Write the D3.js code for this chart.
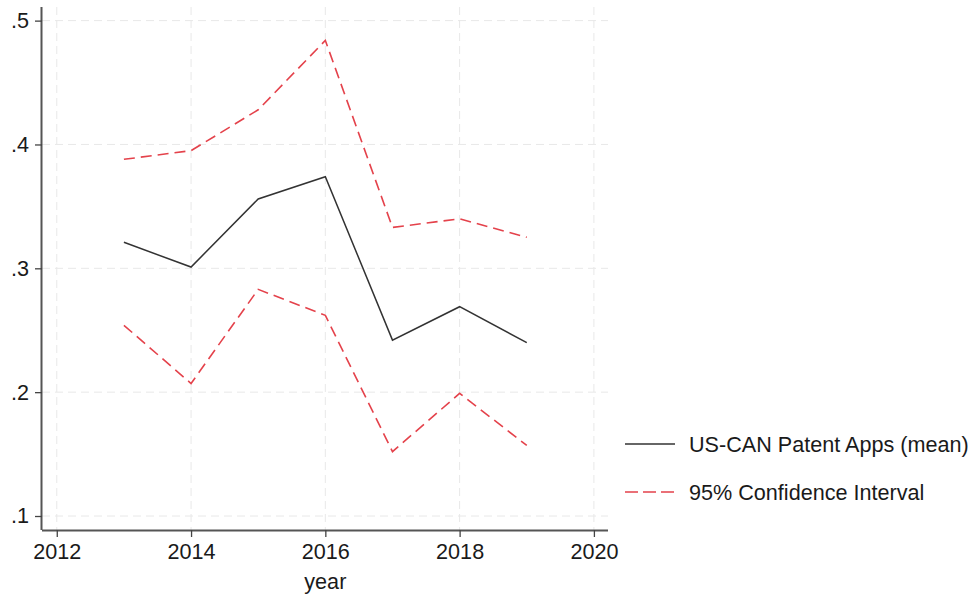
<!DOCTYPE html>
<html>
<head>
<meta charset="utf-8">
<script src="https://cdn.jsdelivr.net/npm/d3@7"></script>
<style>
  html, body { margin: 0; padding: 0; background: #fff; }
  svg text { font-family: "Liberation Sans", Arial, Helvetica, sans-serif; fill: #1a1a1a; }
</style>
</head>
<body>
<svg id="chart" width="979" height="597"></svg>
<script>
// Yearly means of US-CAN patent applications with 95% confidence bounds
const years = [2013, 2014, 2015, 2016, 2017, 2018, 2019];
const meanValues = [0.321, 0.301, 0.356, 0.374, 0.242, 0.269, 0.240];
const upperCI = [0.388, 0.395, 0.428, 0.484, 0.333, 0.340, 0.325];
const lowerCI = [0.254, 0.207, 0.283, 0.262, 0.152, 0.199, 0.157];

const xTicks = [2012, 2014, 2016, 2018, 2020];
const yTicks = [0.1, 0.2, 0.3, 0.4, 0.5];
const yTickLabels = [".1", ".2", ".3", ".4", ".5"];
const legendLabels = ["US-CAN Patent Apps (mean)", "95% Confidence Interval"];

const svg = d3.select("#chart");
const plot = { left: 42, right: 608, top: 7, bottom: 530 };
const fontSize = 21.6;

const x = d3.scaleLinear().domain([2011.78, 2020.21]).range([plot.left, plot.right]);
const y = d3.scaleLinear().domain([0.0887, 0.511]).range([plot.bottom, plot.top]);

const gridColor = "#e8e8e8";
const red = "#e4424b";

// grid
svg.append("g").selectAll("line").data(xTicks).join("line")
  .attr("x1", d => x(d)).attr("x2", d => x(d))
  .attr("y1", plot.top).attr("y2", plot.bottom)
  .attr("stroke", gridColor).attr("stroke-width", 1).attr("stroke-dasharray", "8,5");
svg.append("g").selectAll("line").data(yTicks).join("line")
  .attr("x1", plot.left).attr("x2", plot.right)
  .attr("y1", d => y(d)).attr("y2", d => y(d))
  .attr("stroke", gridColor).attr("stroke-width", 1).attr("stroke-dasharray", "8,5");

// axes
const xAxis = d3.axisBottom(x).tickValues(xTicks).tickFormat(d3.format("d"))
  .tickSize(7).tickPadding(7);
const gx = svg.append("g").attr("transform", `translate(0,${plot.bottom})`).call(xAxis);
gx.select(".domain").attr("d", `M${plot.left},0.5H${plot.right}`)
  .attr("stroke", "#555").attr("stroke-width", 2);
gx.selectAll(".tick line").attr("stroke", "#444").attr("stroke-width", 1.3);
gx.selectAll(".tick text").attr("font-size", fontSize).attr("fill", "#1a1a1a")
  .attr("font-family", "Liberation Sans, Arial, sans-serif");

const yAxis = d3.axisLeft(y).tickValues(yTicks)
  .tickFormat((d, i) => yTickLabels[i]).tickSize(7).tickPadding(6);
const gy = svg.append("g").attr("transform", `translate(${plot.left},0)`).call(yAxis);
gy.select(".domain").attr("d", `M-0.5,${plot.top}V${plot.bottom}`)
  .attr("stroke", "#555").attr("stroke-width", 2);
gy.selectAll(".tick line").attr("stroke", "#444").attr("stroke-width", 1.3);
gy.selectAll(".tick text").attr("font-size", fontSize).attr("fill", "#1a1a1a")
  .attr("font-family", "Liberation Sans, Arial, sans-serif");

svg.append("text")
  .attr("x", x(2016)).attr("y", 589)
  .attr("text-anchor", "middle").attr("font-size", fontSize)
  .text("year");

// series
const line = vals => d3.line().x((d, i) => x(years[i])).y(d => y(d))(vals);

svg.append("path").attr("d", line(upperCI))
  .attr("fill", "none").attr("stroke", red).attr("stroke-width", 1.6)
  .attr("stroke-dasharray", "11,6");
svg.append("path").attr("d", line(lowerCI))
  .attr("fill", "none").attr("stroke", red).attr("stroke-width", 1.6)
  .attr("stroke-dasharray", "11,6");
svg.append("path").attr("d", line(meanValues))
  .attr("fill", "none").attr("stroke", "#333").attr("stroke-width", 1.5);

// legend
const legend = svg.append("g");
const legendRows = [
  { y: 444, stroke: "#333", dash: null },
  { y: 492, stroke: red, dash: "13,5" }
];
legendRows.forEach((r, i) => {
  legend.append("line")
    .attr("x1", 625).attr("x2", 675).attr("y1", r.y).attr("y2", r.y)
    .attr("stroke", r.stroke).attr("stroke-width", 1.6)
    .attr("stroke-dasharray", r.dash);
  legend.append("text")
    .attr("x", 689).attr("y", r.y + 8)
    .attr("font-size", fontSize)
    .text(legendLabels[i]);
});
</script>
</body>
</html>
